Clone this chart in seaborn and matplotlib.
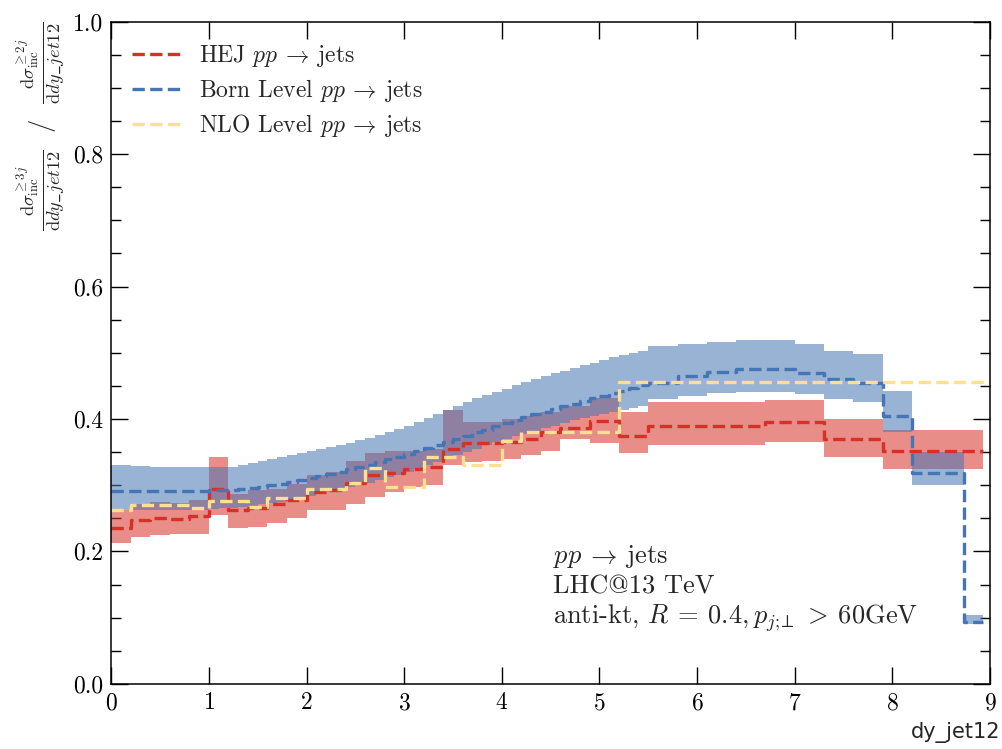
import numpy as np
import pandas as pd
import matplotlib
matplotlib.use("Agg")
import matplotlib.pyplot as plt
import seaborn as sns
from matplotlib.ticker import MultipleLocator, FormatStrFormatter

# ---------------- data ----------------
# HEJ: bin edges, central value and scale band
hej_edges = [0.0, 0.2, 0.4, 0.6, 0.8, 1.0, 1.2, 1.4, 1.6, 1.8, 2.0, 2.2, 2.4, 2.6,
             2.8, 3.0, 3.2, 3.4, 3.6, 3.8, 4.0, 4.2, 4.4, 4.6, 4.9, 5.2, 5.5, 6.7,
             7.3, 7.9, 8.93]
hej_val = [0.235, 0.248, 0.250, 0.249, 0.253, 0.294, 0.262, 0.265, 0.272, 0.277,
           0.290, 0.292, 0.304, 0.315, 0.318, 0.325, 0.327, 0.355, 0.363, 0.363,
           0.365, 0.370, 0.380, 0.387, 0.397, 0.375, 0.390, 0.396, 0.370, 0.351]
hej_lo = [0.212, 0.222, 0.225, 0.227, 0.227, 0.255, 0.235, 0.237, 0.243, 0.250,
          0.262, 0.262, 0.272, 0.282, 0.290, 0.297, 0.300, 0.330, 0.335, 0.337,
          0.340, 0.345, 0.352, 0.370, 0.363, 0.348, 0.360, 0.365, 0.343, 0.324]
hej_hi = [0.262, 0.272, 0.275, 0.273, 0.277, 0.343, 0.287, 0.292, 0.295, 0.302,
          0.315, 0.320, 0.337, 0.348, 0.352, 0.352, 0.355, 0.413, 0.395, 0.395,
          0.400, 0.405, 0.410, 0.420, 0.432, 0.410, 0.425, 0.429, 0.400, 0.383]

# Born level: bin edges, central value and scale band
born_edges = [0.0, 0.1, 0.2, 0.3, 0.4, 0.5, 0.6, 0.7, 0.8, 0.9,
              1.0, 1.1, 1.2, 1.3, 1.4, 1.5, 1.6, 1.7, 1.8, 1.9,
              2.0, 2.1, 2.2, 2.3, 2.4, 2.5, 2.6, 2.7, 2.8, 2.9,
              3.0, 3.1, 3.2, 3.3, 3.4, 3.5, 3.6, 3.7, 3.8, 3.9,
              4.0, 4.1, 4.2, 4.3, 4.4, 4.5, 4.6, 4.7, 4.8, 4.9,
              5.0, 5.1, 5.2, 5.3, 5.4, 5.5, 5.8, 6.1, 6.4, 7.0,
              7.3, 7.6, 7.9, 8.2, 8.73, 8.93]
born_val = [0.291, 0.291, 0.291, 0.291, 0.291, 0.291, 0.291, 0.291, 0.291, 0.291,
            0.292, 0.293, 0.293, 0.294, 0.296, 0.298, 0.300, 0.302, 0.305, 0.308,
            0.311, 0.314, 0.317, 0.320, 0.324, 0.327, 0.331, 0.335, 0.339, 0.343,
            0.347, 0.351, 0.356, 0.361, 0.366, 0.370, 0.375, 0.380, 0.384, 0.389,
            0.394, 0.398, 0.403, 0.407, 0.411, 0.415, 0.419, 0.423, 0.427, 0.431,
            0.435, 0.439, 0.443, 0.447, 0.451, 0.455, 0.465, 0.471, 0.476, 0.470,
            0.461, 0.455, 0.405, 0.319, 0.093]
born_lo = [0.262, 0.262, 0.262, 0.262, 0.262, 0.262, 0.262, 0.263, 0.263, 0.263,
           0.264, 0.265, 0.266, 0.267, 0.269, 0.271, 0.273, 0.275, 0.278, 0.281,
           0.284, 0.287, 0.290, 0.293, 0.297, 0.300, 0.304, 0.308, 0.312, 0.316,
           0.320, 0.325, 0.330, 0.335, 0.340, 0.345, 0.350, 0.355, 0.360, 0.365,
           0.370, 0.374, 0.378, 0.382, 0.386, 0.390, 0.394, 0.398, 0.401, 0.404,
           0.407, 0.410, 0.414, 0.417, 0.420, 0.430, 0.435, 0.440, 0.441, 0.438,
           0.430, 0.425, 0.380, 0.300, 0.090]
born_hi = [0.330, 0.330, 0.329, 0.329, 0.328, 0.328, 0.327, 0.327, 0.327, 0.327,
           0.327, 0.327, 0.328, 0.330, 0.333, 0.336, 0.339, 0.342, 0.345, 0.348,
           0.351, 0.354, 0.357, 0.361, 0.364, 0.368, 0.372, 0.376, 0.380, 0.385,
           0.390, 0.395, 0.401, 0.407, 0.413, 0.419, 0.425, 0.431, 0.436, 0.441,
           0.446, 0.451, 0.456, 0.461, 0.465, 0.469, 0.473, 0.477, 0.481, 0.485,
           0.489, 0.493, 0.497, 0.500, 0.503, 0.510, 0.513, 0.517, 0.520, 0.514,
           0.503, 0.498, 0.443, 0.350, 0.104]

# NLO level: bin edges and central value
nlo_edges = [0.0, 0.2, 0.8, 1.0, 1.4, 1.6, 2.0, 2.4, 2.6, 2.8, 3.2, 3.6, 4.0,
             4.2, 5.2, 9.0]
nlo_val = [0.263, 0.270, 0.266, 0.276, 0.267, 0.280, 0.295, 0.303, 0.326, 0.298,
           0.342, 0.330, 0.367, 0.380, 0.456]

labels = [r"HEJ $pp \:\rightarrow\: \mathrm{jets}$",
          r"Born Level $pp \:\rightarrow\: \mathrm{jets}$",
          r"NLO Level $pp \:\rightarrow\: \mathrm{jets}$"]
colors = ["#d73027", "#4575b4", "#fee090"]


def step_frame(edges, *cols):
    """Histogram-style frame: one row per edge, last value repeated at the end."""
    d = {"x": edges}
    for name, v in cols:
        d[name] = list(v) + [v[-1]]
    return pd.DataFrame(d)


hej = step_frame(hej_edges, ("y", hej_val), ("lo", hej_lo), ("hi", hej_hi))
born = step_frame(born_edges, ("y", born_val), ("lo", born_lo), ("hi", born_hi))
nlo = step_frame(nlo_edges, ("y", nlo_val))

# ---------------- style ----------------
sns.set_theme(style="ticks")
plt.rcParams.update({
    "font.family": "serif",
    "font.serif": ["cmr10"],
    "mathtext.fontset": "cm",
    "axes.formatter.use_mathtext": True,
    "axes.unicode_minus": False,
    "axes.linewidth": 1.1,
    "axes.edgecolor": "black",
})

fig = plt.figure(figsize=(10.02, 7.49), dpi=100)
ax = fig.add_axes([0.111, 0.087, 0.877, 0.884])

# scale-variation bands
ax.fill_between(hej["x"], hej["lo"], hej["hi"], step="post",
                color=colors[0], alpha=0.55, lw=0)
ax.fill_between(born["x"], born["lo"], born["hi"], step="post",
                color=colors[1], alpha=0.55, lw=0)

# central values
for df, col, lab in [(hej, colors[0], labels[0]),
                     (born, colors[1], labels[1]),
                     (nlo, colors[2], labels[2])]:
    sns.lineplot(data=df, x="x", y="y", ax=ax, color=col, label=lab,
                 drawstyle="steps-post", linestyle="--", linewidth=2.4,
                 estimator=None, sort=False)

ax.set_xlim(0, 9)
ax.set_ylim(0, 1.0)
ax.xaxis.set_major_locator(MultipleLocator(1))
ax.yaxis.set_major_locator(MultipleLocator(0.2))
ax.yaxis.set_minor_locator(MultipleLocator(0.05))
ax.yaxis.set_major_formatter(FormatStrFormatter("%.1f"))
ax.tick_params(axis="both", which="both", direction="in",
               top=True, right=True, labelsize=17, colors="black")
ax.tick_params(axis="both", which="major", length=12, width=1.0, pad=6)
ax.tick_params(axis="y", which="minor", length=7, width=1.0)

ax.set_xlabel("dy_jet12", fontsize=15, fontfamily="DejaVu Sans",
              ha="right", va="top")
ax.xaxis.set_label_coords(1.012, -0.058)
ax.set_ylabel(r"$\frac{\mathrm{d}\sigma^{\geq 3j}_{\mathrm{inc}}}{\mathrm{d}dy\_jet12}"
              r"\ \ /\ \ "
              r"\frac{\mathrm{d}\sigma^{\geq 2j}_{\mathrm{inc}}}{\mathrm{d}dy\_jet12}$",
              fontsize=19, loc="top", labelpad=4)

leg = ax.legend(loc="upper left", frameon=False, fontsize=17,
                handlelength=2.0, labelspacing=0.35)

ax.text(0.503, 0.212,
        r"$pp \:\rightarrow\: \mathrm{jets}$" "\n"
        "LHC@13 TeV\n"
        r"anti-kt, $R\:=\:0.4, p_{j;\!\!\perp}\:>\:60\mathrm{GeV}$",
        transform=ax.transAxes, fontsize=19, va="top", ha="left",
        linespacing=1.22)

fig.savefig("out.png", dpi=100)
